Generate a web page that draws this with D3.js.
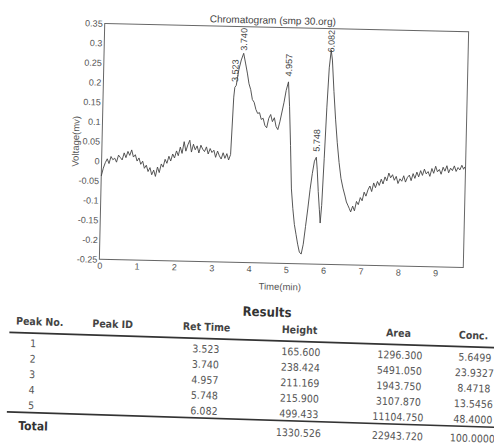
<!DOCTYPE html>
<html lang="en">
<head>
<meta charset="UTF-8">
<title>Chromatogram (smp 30.org)</title>
<script src="https://d3js.org/d3.v7.min.js"></script>
<style>
  body { margin: 0; background: #ffffff; }
  svg { display: block; }
</style>
</head>
<body>
<svg id="page" width="494" height="444"></svg>
<script>
// trace (time in min, voltage in mv)
var timeMin = [
  0.00,0.05,0.10,0.15,0.20,0.25,0.30,0.35,0.40,0.45,0.50,0.55,0.60,0.65,0.70,0.75,0.80,0.85,0.90,0.95,
  1.00,1.05,1.10,1.15,1.20,1.25,1.30,1.35,1.40,1.45,1.50,1.55,1.60,1.65,1.70,1.75,1.80,1.85,1.90,1.95,
  2.00,2.05,2.10,2.15,2.20,2.25,2.30,2.35,2.40,2.45,2.50,2.55,2.60,2.65,2.70,2.75,2.80,2.85,2.90,2.95,
  3.00,3.05,3.10,3.15,3.20,3.25,3.30,3.35,3.40,3.45,
  3.50,3.523,3.56,3.62,3.68,3.74,3.80,3.85,3.90,3.95,4.00,4.05,4.10,4.15,4.20,4.25,4.30,4.35,4.40,4.45,
  4.50,4.55,4.60,4.65,4.70,4.75,4.80,4.85,4.90,4.957,5.00,5.05,5.10,5.15,5.20,5.25,5.30,5.35,5.40,5.45,
  5.50,5.55,5.60,5.65,5.70,5.748,5.78,5.82,5.86,5.89,5.92,5.96,6.00,6.04,6.082,6.12,6.18,6.24,6.30,6.36,
  6.42,6.48,6.54,6.58,6.62,6.66,6.70,6.75,6.80,6.85,6.90,6.95,7.00,7.05,7.10,7.15,7.20,7.25,7.30,7.35,
  7.40,7.45,7.50,7.55,7.60,7.65,7.70,7.75,7.80,7.85,7.90,7.95,8.00,8.05,8.10,8.15,8.20,8.25,8.30,8.35,
  8.40,8.45,8.50,8.55,8.60,8.65,8.70,8.75,8.80,8.85,8.90,8.95,9.00,9.05,9.10,9.15,9.20,9.25,9.30,9.35,
  9.40,9.45,9.50,9.55,9.60,9.65,9.70,9.73
];
var voltage = [
  -0.038,-0.018,-0.004,0.006,-0.006,0.012,0.004,0.008,-0.002,0.016,0.010,0.004,0.022,0.010,0.026,0.016,0.030,0.012,0.018,0.002,
  0.010,-0.006,0.002,-0.016,-0.008,-0.024,-0.014,-0.032,-0.020,-0.036,-0.012,-0.026,-0.004,-0.012,0.008,-0.002,0.016,0.004,0.022,0.012,
  0.030,0.018,0.040,0.024,0.054,0.030,0.046,0.058,0.028,0.048,0.034,0.044,0.026,0.046,0.036,0.030,0.042,0.024,0.038,0.028,
  0.034,0.016,0.032,0.020,0.012,0.028,0.014,0.026,0.010,0.024,
  0.170,0.195,0.200,0.240,0.265,0.282,0.255,0.232,0.205,0.190,0.165,0.158,0.140,0.130,0.132,0.115,0.118,0.100,0.094,0.118,
  0.128,0.110,0.120,0.098,0.090,0.110,0.135,0.160,0.190,0.212,0.150,0.050,-0.060,-0.110,-0.150,-0.175,-0.200,-0.220,-0.225,-0.200,
  -0.155,-0.110,-0.060,-0.020,0.012,0.022,-0.010,-0.065,-0.110,-0.145,-0.100,0.020,0.150,0.250,0.295,0.270,0.190,0.120,0.060,0.010,
  -0.030,-0.055,-0.075,-0.090,-0.098,-0.106,-0.115,-0.100,-0.112,-0.088,-0.096,-0.078,-0.086,-0.064,-0.074,-0.058,-0.048,-0.062,-0.040,-0.052,
  -0.036,-0.046,-0.030,-0.042,-0.024,-0.034,-0.014,-0.026,-0.018,-0.032,-0.022,-0.040,-0.028,-0.034,-0.020,-0.036,-0.024,-0.018,-0.032,-0.014,
  -0.026,-0.010,-0.022,-0.006,-0.018,-0.002,-0.014,-0.008,-0.020,0.000,-0.012,0.006,-0.008,-0.002,-0.014,0.004,-0.006,0.008,-0.010,0.002,
  -0.004,0.008,-0.006,0.004,-0.002,0.010,0.000,0.006
];

var xTicks = [0, 1, 2, 3, 4, 5, 6, 7, 8, 9];
var yTicks = [-0.25, -0.2, -0.15, -0.1, -0.05, 0, 0.05, 0.1, 0.15, 0.2, 0.25, 0.3, 0.35];

// results table
var peakNo = [1, 2, 3, 4, 5];
var retTime = [3.523, 3.740, 4.957, 5.748, 6.082];
var height = [165.600, 238.424, 211.169, 215.900, 499.433];
var area = [1296.300, 5491.050, 1943.750, 3107.870, 11104.750];
var conc = [5.6499, 23.9327, 8.4718, 13.5456, 48.4000];
var totalRow = [1330.526, 22943.720, 100.0000];
var headers = ["Peak No.", "Peak ID", "Ret Time", "Height", "Area", "Conc."];

var svg = d3.select("#page");
svg.append("rect").attr("width", 494).attr("height", 444).attr("fill", "#ffffff");

var chartFont = "'Liberation Sans', Arial, sans-serif";
var tableFont = "Tahoma, 'DejaVu Sans Condensed', 'DejaVu Sans', sans-serif";

// ---------- chromatogram ----------
var plotL = 102, plotR = 466, plotT = 27.5, plotB = 263.5;

// the scan is a little tilted
var chart = svg.append("g")
    .attr("transform", "rotate(1.3,284,145.5)");

var x = d3.scaleLinear().domain([0, 9.75]).range([plotL, plotR]);
var y = d3.scaleLinear().domain([-0.25, 0.35]).range([plotB, plotT]);

chart.append("rect")
    .attr("x", plotL).attr("y", plotT)
    .attr("width", plotR - plotL).attr("height", plotB - plotT)
    .attr("fill", "none").attr("stroke", "#666").attr("stroke-width", 1);

var xAxis = chart.append("g")
    .attr("transform", "translate(0," + plotB + ")")
    .call(d3.axisBottom(x).tickValues(xTicks).tickSize(0).tickPadding(3));
var yAxis = chart.append("g")
    .attr("transform", "translate(" + (plotL - 1) + ",0)")
    .call(d3.axisLeft(y).tickValues(yTicks).tickSize(0).tickPadding(1)
      .tickFormat(function (d) { return String(+d.toFixed(2)); }));
[xAxis, yAxis].forEach(function (a) {
  a.select(".domain").remove();
  a.selectAll("text")
    .style("font-family", chartFont)
    .style("font-size", "9px")
    .attr("fill", "#555");
});

chart.append("text")
    .attr("x", 270).attr("y", 24)
    .attr("text-anchor", "middle")
    .style("font-family", chartFont).style("font-size", "10px")
    .attr("fill", "#444")
    .text("Chromatogram (smp 30.org)");

chart.append("text")
    .attr("transform", "translate(79,146) rotate(-90)")
    .attr("text-anchor", "middle")
    .style("font-family", chartFont).style("font-size", "9.5px")
    .attr("fill", "#555")
    .text("Voltage(mv)");

chart.append("text")
    .attr("x", 283).attr("y", 290)
    .attr("text-anchor", "middle")
    .style("font-family", chartFont).style("font-size", "9.5px")
    .attr("fill", "#555")
    .text("Time(min)");

var trace = timeMin.map(function (t, i) { return [t, voltage[i]]; });
chart.append("path")
    .datum(trace)
    .attr("fill", "none")
    .attr("stroke", "#444")
    .attr("stroke-width", 0.9)
    .attr("stroke-linejoin", "round")
    .attr("d", d3.line().x(function (d) { return x(d[0]); }).y(function (d) { return y(d[1]); }));

// peak labels, written upwards above each apex
var bis = d3.bisector(function (d) { return d[0]; }).left;
retTime.forEach(function (t) {
  var p = trace[Math.min(bis(trace, t), trace.length - 1)];
  var labelLen = 22;
  var py = y(p[1]) - 5.5;
  if (py - labelLen < plotT + 2) py = plotT + 2 + labelLen;
  chart.append("text")
      .attr("transform", "translate(" + x(t) + "," + py + ") rotate(-90)")
      .attr("dy", "0.35em")
      .style("font-family", chartFont).style("font-size", "9px")
      .attr("fill", "#444")
      .text(t.toFixed(3));
});

// ---------- results table ----------
var table = svg.append("g")
    .attr("transform", "rotate(1.8,250,380)");

table.append("text")
    .attr("x", 265).attr("y", 316)
    .attr("text-anchor", "middle")
    .style("font-family", tableFont).style("font-size", "13px").style("font-weight", "bold")
    .attr("fill", "#333")
    .text("Results");

var headerX = [38, 111, 205, 298, 397, 472];
table.selectAll(".hdr")
  .data(headers)
  .enter().append("text")
    .attr("class", "hdr")
    .attr("x", function (d, i) { return headerX[i]; })
    .attr("y", 332)
    .attr("text-anchor", "middle")
    .style("font-family", tableFont).style("font-size", "10.5px").style("font-weight", "bold")
    .attr("fill", "#444")
    .text(function (d) { return d; });

table.append("line")
    .attr("x1", 8).attr("x2", 500).attr("y1", 340).attr("y2", 340)
    .attr("stroke", "#333").attr("stroke-width", 1.6);
table.append("line")
    .attr("x1", 8).attr("x2", 500).attr("y1", 419.5).attr("y2", 419.5)
    .attr("stroke", "#333").attr("stroke-width", 1.6);

var rowY = d3.scaleLinear().domain([0, 4]).range([354, 416]);
var cols = [
  { x: 32, vals: peakNo, fmt: function (d) { return String(d); } },
  { x: 205, vals: retTime, fmt: function (d) { return d.toFixed(3); } },
  { x: 300, vals: height, fmt: function (d) { return d.toFixed(3); } },
  { x: 399, vals: area, fmt: function (d) { return d.toFixed(3); } },
  { x: 474, vals: conc, fmt: function (d) { return d.toFixed(4); } }
];
cols.forEach(function (c) {
  table.selectAll(null)
    .data(c.vals)
    .enter().append("text")
      .attr("x", c.x)
      .attr("y", function (d, i) { return rowY(i); })
      .attr("text-anchor", "middle")
      .style("font-family", tableFont).style("font-size", "10.5px")
      .attr("fill", "#555")
      .text(c.fmt);
});

table.append("text")
    .attr("x", 20).attr("y", 437)
    .style("font-family", tableFont).style("font-size", "12px").style("font-weight", "bold")
    .attr("fill", "#333")
    .text("Total");
var totalX = [300, 399, 474];
var totalFmt = [3, 3, 4];
table.selectAll(".tot")
  .data(totalRow)
  .enter().append("text")
    .attr("class", "tot")
    .attr("x", function (d, i) { return totalX[i]; })
    .attr("y", 435)
    .attr("text-anchor", "middle")
    .style("font-family", tableFont).style("font-size", "10.5px")
    .attr("fill", "#555")
    .text(function (d, i) { return d.toFixed(totalFmt[i]); });
</script>
</body>
</html>
